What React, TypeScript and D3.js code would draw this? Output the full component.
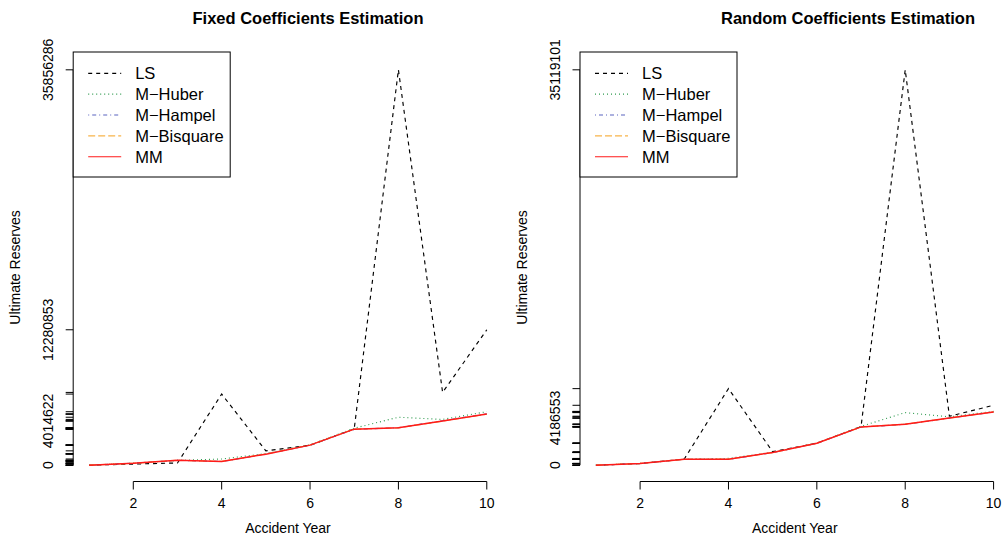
import React from "react";
import * as d3 from "d3";

const years = [1, 2, 3, 4, 5, 6, 7, 8, 9, 10];
const seriesNames = ["LS", "M\u2212Huber", "M\u2212Hampel", "M\u2212Bisquare", "MM"];
const seriesColors = ["#000000", "#2E9A4E", "#5A64C0", "#F7B44A", "#FF1A1A"];
const seriesDash = ["4,4", "1,3", "1,3,4,3", "7,3", null];

// Fixed coefficients estimation
const fixedLS = [0, 100000, 200000, 6450000, 1300000, 1800000, 3300000, 35856286, 6600000, 12280853];
const fixedHuber = [0, 170000, 430000, 560000, 1050000, 1850000, 3350000, 4350000, 4150000, 4850000];
const fixedHampel = [0, 180000, 440000, 330000, 1010000, 1820000, 3250000, 3400000, 4030000, 4650000];
const fixedBisquare = [0, 175000, 445000, 345000, 1020000, 1830000, 3280000, 3380000, 4000000, 4620000];
const fixedMM = [0, 180000, 450000, 340000, 1000000, 1820000, 3270000, 3390000, 4014622, 4640000];
const fixedLabels = [0, 4014622, 12280853, 35856286];

// Random coefficients estimation
const randomLS = [0, 140000, 550000, 6800000, 1200000, 1950000, 3420000, 35119101, 4350000, 5320000];
const randomHuber = [0, 160000, 540000, 600000, 1150000, 1970000, 3450000, 4670000, 4300000, 4780000];
const randomHampel = [0, 150000, 520000, 520000, 1120000, 1940000, 3380000, 3630000, 4180000, 4720000];
const randomBisquare = [0, 155000, 525000, 535000, 1125000, 1945000, 3390000, 3650000, 4190000, 4735000];
const randomMM = [0, 150000, 530000, 530000, 1130000, 1950000, 3400000, 3640000, 4186553, 4730000];
const randomLabels = [0, 4186553, 35119101];

const xTicks = [2, 4, 6, 8, 10];

const FONT = "Liberation Sans, Arial, Helvetica, sans-serif";
const TOP = 54;
const BOTTOM = 481;
const PW = 429.5;

type PanelProps = {
  left: number;
  titleX: number;
  title: string;
  series: number[][];
  labels: number[];
};

const Panel = ({ left, titleX, title, series, labels }: PanelProps) => {
  const all = series.flat();
  const [lo, hi] = d3.extent(all) as [number, number];
  const padY = (hi - lo) * 0.04;
  const x = d3.scaleLinear().domain([1 - 0.36, 10 + 0.36]).range([left, left + PW]);
  const y = d3.scaleLinear().domain([lo - padY, hi + padY]).range([BOTTOM, TOP]);
  const line = d3
    .line<number>()
    .x((_, i) => x(years[i]))
    .y((d) => y(d));
  const cx = left + PW / 2;

  return (
    <g fontFamily={FONT}>
      <text x={titleX} y={24} textAnchor="middle" fontWeight="bold" fontSize={16.5}>
        {title}
      </text>

      {series.map((s, i) => (
        <path
          key={i}
          d={line(s) || ""}
          fill="none"
          stroke={seriesColors[i]}
          strokeWidth={i === 4 ? 1.5 : 1.15}
          strokeDasharray={seriesDash[i] || undefined}
        />
      ))}

      {/* x axis */}
      <line x1={x(2)} x2={x(10)} y1={BOTTOM + 0.5} y2={BOTTOM + 0.5} stroke="black" />
      {xTicks.map((t) => (
        <g key={t}>
          <line x1={x(t)} x2={x(t)} y1={BOTTOM + 0.5} y2={BOTTOM + 8.5} stroke="black" />
          <text x={x(t)} y={508} textAnchor="middle" fontSize={14}>
            {t}
          </text>
        </g>
      ))}
      <text x={cx} y={533} textAnchor="middle" fontSize={14}>
        Accident Year
      </text>

      {/* y axis with a tick at every value */}
      <line x1={left} x2={left} y1={y(lo)} y2={y(hi)} stroke="black" />
      {all.map((v, i) => (
        <line key={i} x1={left} x2={left - 7.5} y1={y(v)} y2={y(v)} stroke="black" />
      ))}
      {labels.map((v) => (
        <text
          key={v}
          transform={`translate(${left - 20},${y(v)}) rotate(-90)`}
          textAnchor="middle"
          fontSize={14}
        >
          {v}
        </text>
      ))}
      <text
        transform={`translate(${left - 53},${(TOP + BOTTOM) / 2}) rotate(-90)`}
        textAnchor="middle"
        fontSize={14}
      >
        Ultimate Reserves
      </text>

      {/* legend */}
      <rect x={left} y={52} width={157} height={125} fill="white" stroke="black" />
      {seriesNames.map((n, i) => {
        const ly = 73.3 + i * 20.85;
        return (
          <g key={n}>
            <line
              x1={left + 15}
              x2={left + 48}
              y1={ly}
              y2={ly}
              stroke={seriesColors[i]}
              strokeWidth={1.15}
              strokeDasharray={seriesDash[i] || undefined}
            />
            <text x={left + 62} y={ly + 5.8} fontSize={16.5}>
              {n}
            </text>
          </g>
        );
      })}
    </g>
  );
};

export default function App() {
  return (
    <svg width={1006} height={536} style={{ position: "absolute", left: 0, top: 0 }}>
      <rect width={1006} height={536} fill="white" />
      <Panel
        left={73.2}
        titleX={308}
        title="Fixed Coefficients Estimation"
        series={[fixedLS, fixedHuber, fixedHampel, fixedBisquare, fixedMM]}
        labels={fixedLabels}
      />
      <Panel
        left={580}
        titleX={848}
        title="Random Coefficients Estimation"
        series={[randomLS, randomHuber, randomHampel, randomBisquare, randomMM]}
        labels={randomLabels}
      />
    </svg>
  );
}
